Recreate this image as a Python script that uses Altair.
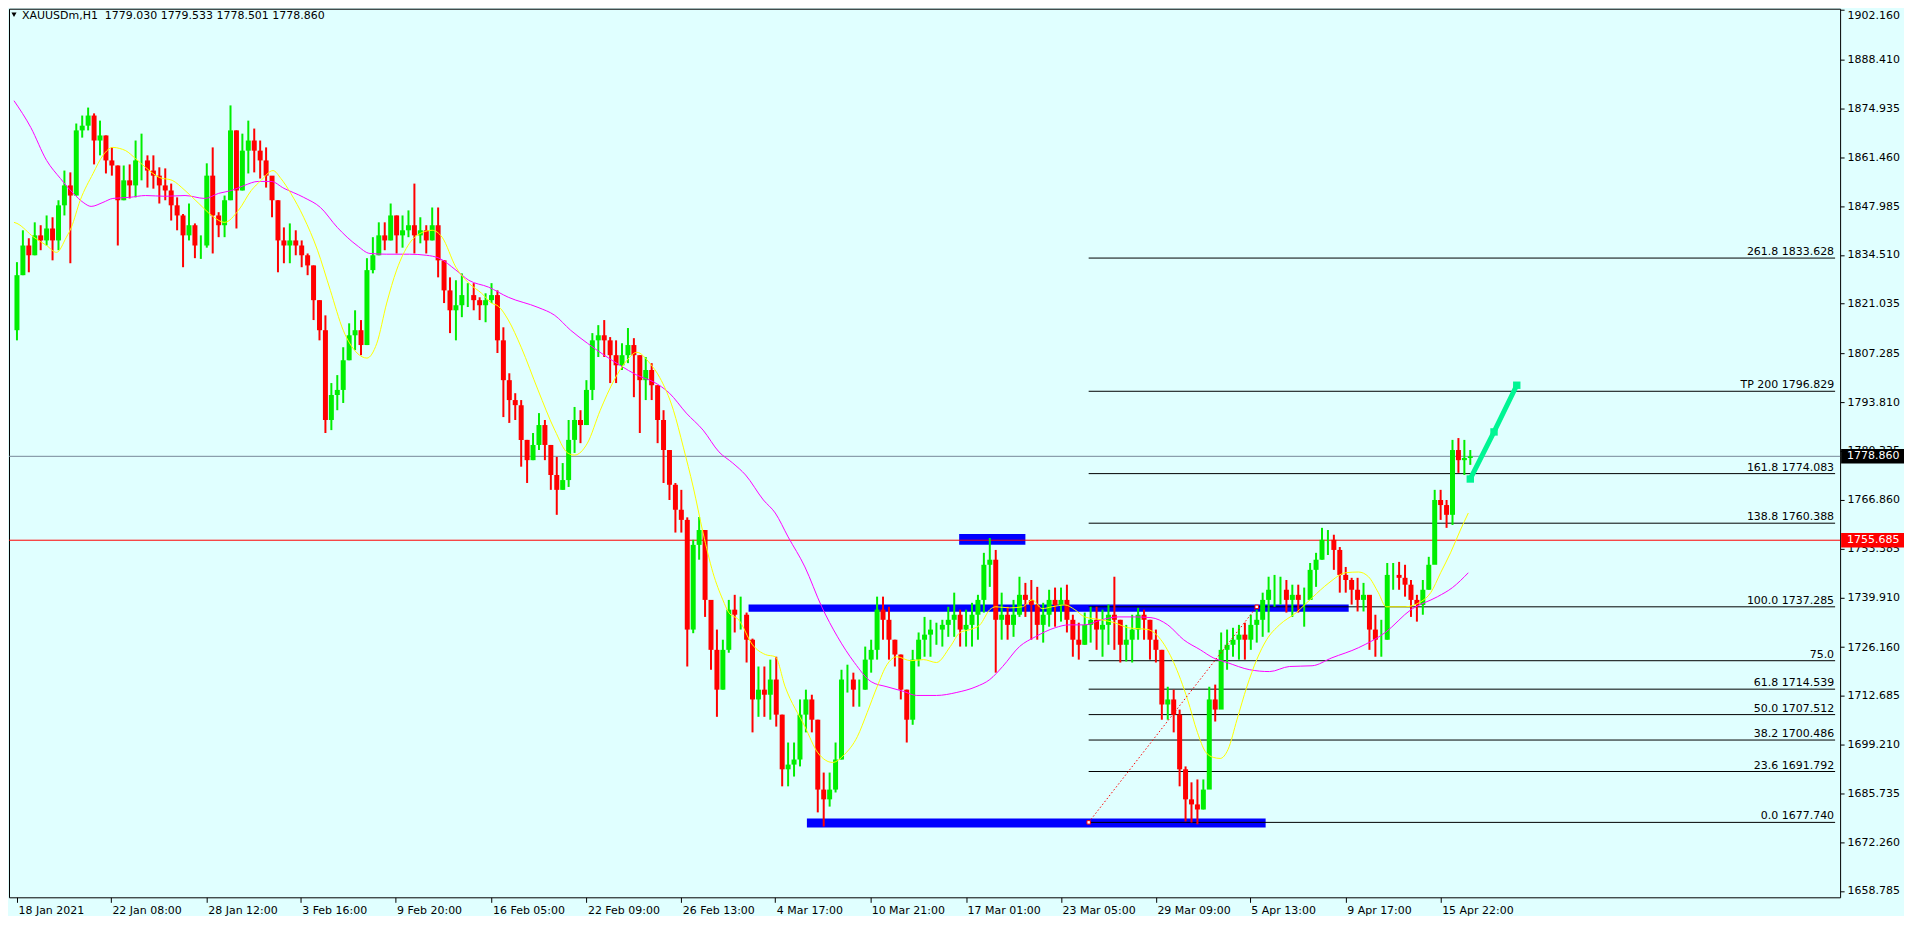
import altair as alt
import pandas as pd

# ---------------- data ----------------
TITLE = "XAUUSDm,H1\u00a0\u00a01779.030 1779.533 1778.501 1778.860"

FIRST_OPEN = 1813.7
BARS_PER_CANDLE = 6  # H1 bars aggregated per drawn candle

highs = [
    1832.5, 1841.3, 1839.1, 1843.5, 1842.7, 1845.4, 1844.9, 1849.6, 1857.8, 1857.3,
    1870.8, 1873.0, 1875.2, 1873.6, 1871.6, 1867.5, 1864.2, 1859.2, 1859.2, 1859.5,
    1866.1, 1868.0, 1862.0, 1862.0, 1858.7, 1858.4, 1854.2, 1850.4, 1845.8, 1848.7,
    1843.2, 1839.9, 1859.8, 1864.2, 1846.3, 1850.9, 1875.8, 1868.9, 1868.0, 1871.6,
    1869.4, 1866.1, 1864.2, 1856.1, 1849.6, 1842.1, 1843.2, 1841.3, 1838.5, 1834.9,
    1831.6, 1822.0, 1817.8, 1799.1, 1801.3, 1809.0, 1815.6, 1819.2, 1816.5, 1833.6,
    1839.4, 1843.5, 1843.5, 1848.7, 1845.4, 1845.4, 1846.8, 1854.2, 1844.9, 1842.7,
    1847.6, 1847.6, 1833.0, 1828.3, 1827.5, 1829.4, 1826.7, 1826.7, 1822.8, 1823.9,
    1826.7, 1824.7, 1814.5, 1801.8, 1796.3, 1794.4, 1783.4, 1785.3, 1790.8, 1788.9,
    1782.0, 1778.7, 1777.0, 1788.9, 1792.5, 1791.6, 1799.9, 1812.9, 1815.1, 1816.5,
    1811.8, 1810.9, 1810.1, 1814.3, 1811.5, 1806.8, 1806.3, 1804.6, 1798.5, 1791.6,
    1780.6, 1771.5, 1769.6, 1762.0, 1755.8, 1762.1, 1758.5, 1739.2, 1731.0, 1728.2,
    1739.2, 1740.6, 1740.1, 1735.7, 1728.5, 1720.8, 1720.8, 1722.7, 1723.5, 1707.5,
    1699.8, 1699.8, 1711.7, 1714.4, 1713.0, 1706.1, 1691.5, 1691.5, 1699.8, 1719.9,
    1721.3, 1719.1, 1717.2, 1726.3, 1728.2, 1740.1, 1740.1, 1737.3, 1728.2, 1724.1,
    1714.4, 1725.4, 1730.2, 1734.5, 1733.7, 1732.9, 1733.7, 1737.3, 1741.2, 1736.5,
    1736.5, 1738.4, 1740.6, 1752.2, 1756.3, 1753.0, 1741.2, 1737.3, 1739.2, 1745.6,
    1743.9, 1744.7, 1742.8, 1738.4, 1742.0, 1742.6, 1742.6, 1743.4, 1735.1, 1732.9,
    1735.7, 1737.3, 1737.3, 1736.5, 1737.9, 1745.6, 1733.7, 1732.3, 1735.1, 1737.0,
    1736.5, 1733.7, 1731.0, 1725.4, 1715.2, 1714.4, 1708.9, 1693.2, 1688.8, 1689.6,
    1689.6, 1715.2, 1715.8, 1730.2, 1731.0, 1731.5, 1732.3, 1732.9, 1735.1, 1736.5,
    1741.2, 1745.6, 1746.1, 1745.6, 1744.7, 1743.4, 1743.4, 1742.6, 1749.4, 1752.2,
    1759.1, 1758.5, 1757.2, 1753.8, 1748.3, 1745.3, 1745.3, 1743.9, 1739.2, 1735.1,
    1733.7, 1749.4, 1749.4, 1749.7, 1748.9, 1744.7, 1740.6, 1744.7, 1751.1, 1769.6,
    1769.6, 1766.8, 1783.4, 1783.9, 1783.4, 1780.6,
]

lows = [
    1810.9, 1828.9, 1829.7, 1834.4, 1835.8, 1837.1, 1833.0, 1835.8, 1845.4, 1832.2,
    1850.9, 1866.9, 1868.9, 1859.5, 1862.0, 1857.0, 1856.4, 1837.1, 1849.6, 1850.1,
    1850.4, 1855.1, 1853.1, 1852.8, 1848.7, 1849.6, 1844.0, 1841.3, 1831.1, 1838.5,
    1833.6, 1833.4, 1836.5, 1834.9, 1839.4, 1839.4, 1849.6, 1841.8, 1852.3, 1857.0,
    1857.3, 1855.6, 1853.1, 1844.9, 1829.7, 1832.2, 1832.2, 1834.4, 1831.1, 1828.9,
    1816.5, 1810.9, 1785.3, 1786.1, 1791.6, 1793.6, 1805.4, 1808.2, 1806.8, 1809.6,
    1829.4, 1834.4, 1835.8, 1838.5, 1834.9, 1836.5, 1839.4, 1834.9, 1837.7, 1834.9,
    1838.5, 1828.3, 1821.2, 1812.9, 1810.9, 1817.3, 1820.1, 1819.2, 1816.5, 1815.9,
    1821.2, 1807.4, 1789.7, 1788.1, 1788.9, 1776.0, 1771.5, 1777.8, 1780.6, 1777.8,
    1769.6, 1762.7, 1769.6, 1770.4, 1779.8, 1782.5, 1787.5, 1794.4, 1806.3, 1806.3,
    1799.1, 1799.1, 1802.7, 1804.6, 1795.2, 1785.3, 1794.4, 1794.4, 1782.5, 1771.5,
    1766.8, 1757.8, 1757.8, 1720.8, 1730.0, 1750.3, 1734.5, 1719.9, 1706.9, 1714.4,
    1724.6, 1730.2, 1731.0, 1721.9, 1702.6, 1706.9, 1706.9, 1706.1, 1704.2, 1687.7,
    1687.7, 1690.4, 1693.2, 1702.6, 1702.6, 1680.5, 1676.6, 1682.1, 1686.0, 1695.1,
    1713.6, 1709.7, 1709.7, 1714.4, 1719.1, 1722.7, 1728.2, 1722.7, 1720.8, 1711.7,
    1699.8, 1704.7, 1720.8, 1723.5, 1723.5, 1726.8, 1726.3, 1729.0, 1729.0, 1726.3,
    1726.3, 1726.3, 1728.2, 1735.7, 1742.8, 1719.1, 1728.2, 1728.2, 1729.0, 1734.5,
    1734.5, 1728.2, 1728.2, 1727.4, 1731.8, 1731.8, 1733.2, 1730.2, 1723.5, 1722.7,
    1726.8, 1727.4, 1725.4, 1723.5, 1726.8, 1725.4, 1721.9, 1722.2, 1721.9, 1728.2,
    1728.2, 1722.7, 1721.9, 1706.1, 1706.1, 1702.6, 1687.7, 1678.0, 1677.7, 1677.2,
    1681.3, 1688.2, 1705.6, 1710.3, 1719.9, 1723.5, 1722.7, 1722.7, 1725.4, 1727.4,
    1729.0, 1730.2, 1737.3, 1737.9, 1735.7, 1734.5, 1735.7, 1731.8, 1739.2, 1742.8,
    1750.3, 1751.6, 1747.5, 1741.2, 1741.2, 1737.9, 1736.0, 1736.0, 1725.4, 1723.5,
    1723.5, 1728.2, 1742.0, 1742.0, 1740.1, 1734.5, 1733.2, 1735.1, 1742.0, 1749.4,
    1761.3, 1759.1, 1759.9, 1774.3, 1773.7, 1776.5,
]

closes = [
    1828.9, 1837.1, 1834.4, 1839.9, 1838.5, 1841.8, 1838.5, 1848.2, 1853.7, 1850.9,
    1868.9, 1870.2, 1873.0, 1866.1, 1867.5, 1860.6, 1859.2, 1849.6, 1855.1, 1853.7,
    1860.6, 1860.6, 1857.8, 1856.4, 1853.7, 1852.3, 1848.2, 1845.4, 1839.9, 1842.7,
    1837.1, 1837.1, 1856.4, 1845.4, 1842.7, 1849.6, 1868.9, 1852.3, 1863.3, 1866.1,
    1863.3, 1860.6, 1856.4, 1849.6, 1838.5, 1837.1, 1838.5, 1837.1, 1834.4, 1831.6,
    1822.0, 1813.7, 1788.9, 1795.8, 1797.2, 1805.4, 1812.3, 1813.7, 1809.6, 1830.3,
    1834.4, 1839.9, 1838.5, 1845.4, 1839.9, 1841.3, 1842.7, 1839.9, 1841.3, 1838.5,
    1842.7, 1833.0, 1824.7, 1819.2, 1820.6, 1823.4, 1823.4, 1822.0, 1820.6, 1822.0,
    1823.4, 1810.9, 1799.9, 1794.4, 1793.0, 1783.4, 1777.8, 1782.0, 1787.5, 1782.0,
    1773.7, 1769.6, 1772.3, 1783.4, 1788.9, 1787.5, 1797.2, 1810.9, 1812.3, 1810.9,
    1806.8, 1804.0, 1806.8, 1809.6, 1806.8, 1799.9, 1802.7, 1798.5, 1788.9, 1780.6,
    1771.0, 1764.1, 1761.3, 1731.0, 1754.4, 1758.5, 1739.2, 1725.4, 1714.4, 1725.4,
    1736.5, 1735.1, 1735.1, 1728.2, 1711.7, 1714.4, 1713.0, 1717.2, 1707.5, 1692.4,
    1693.7, 1695.1, 1707.5, 1711.7, 1706.1, 1686.8, 1684.1, 1686.8, 1695.1, 1717.2,
    1717.2, 1714.4, 1714.4, 1722.7, 1725.4, 1736.5, 1733.7, 1728.2, 1724.1, 1714.4,
    1706.1, 1722.7, 1728.2, 1729.6, 1731.0, 1731.0, 1732.3, 1733.7, 1735.1, 1731.0,
    1732.3, 1735.1, 1739.2, 1748.9, 1750.3, 1733.7, 1735.1, 1732.3, 1735.1, 1740.6,
    1739.2, 1737.8, 1732.3, 1735.1, 1739.2, 1737.8, 1739.2, 1733.7, 1728.2, 1726.8,
    1732.3, 1733.7, 1731.0, 1732.3, 1735.1, 1733.7, 1726.8, 1728.2, 1731.0, 1735.1,
    1733.7, 1728.2, 1725.4, 1710.3, 1711.7, 1707.5, 1692.4, 1684.1, 1682.7, 1681.3,
    1686.8, 1711.7, 1708.9, 1725.4, 1726.8, 1728.2, 1729.6, 1728.2, 1732.3, 1733.7,
    1739.2, 1742.0, 1742.0, 1742.0, 1739.2, 1740.6, 1739.2, 1739.2, 1747.5, 1750.3,
    1755.8, 1755.8, 1753.0, 1746.1, 1744.7, 1742.0, 1739.2, 1740.6, 1731.0, 1728.2,
    1728.2, 1746.1, 1746.1, 1745.3, 1743.4, 1739.2, 1737.8, 1742.0, 1748.9, 1766.8,
    1765.4, 1762.7, 1780.6, 1777.8, 1778.4, 1778.86,
]

# fast moving average (yellow) and slow moving average (magenta): bar index / value
fast_ma_bar = [0, 3, 20, 33, 43, 53, 58, 67, 80, 90, 100, 107, 113, 123, 133, 147, 160, 173, 187, 200,
               213, 227, 240, 250, 262, 270, 280, 293, 307, 320, 333, 347, 357, 367, 377, 387, 400, 413, 423, 433,
               447, 460, 473, 483, 490, 500, 513, 530, 547, 560, 567, 580, 593, 607, 620, 630, 643, 653, 667, 677,
               687, 697, 707, 717, 723, 733, 747, 760, 770, 780, 800, 813, 828, 840, 853, 863, 873, 883, 893, 907,
               920, 933, 947, 957, 967, 977, 987, 993, 1007, 1020, 1030, 1040, 1050, 1063, 1073, 1083, 1100, 1113,
               1127, 1147, 1160, 1173, 1187, 1197, 1205, 1213, 1220, 1228, 1237, 1247, 1257, 1267, 1280, 1297,
               1313, 1330, 1347, 1360, 1370, 1380, 1388, 1407, 1423, 1433, 1443, 1453, 1463, 1471]
fast_ma_val = [1843.5, 1843.2, 1839.4, 1837.1, 1835.2, 1839.4, 1842.1, 1849.6, 1857.0, 1862.0, 1864.2, 1863.9,
               1863.3, 1861.1, 1858.7, 1855.9, 1855.1, 1852.3, 1848.7, 1845.4, 1843.5, 1846.8, 1852.3, 1855.1,
               1857.8, 1855.6, 1851.5, 1844.9, 1835.8, 1824.7, 1813.7, 1807.4, 1806.0, 1810.1, 1821.2, 1830.3,
               1837.7, 1840.7, 1841.3, 1839.4, 1831.1, 1826.7, 1823.9, 1821.2, 1820.3, 1816.5, 1809.0, 1797.2,
               1786.1, 1779.8, 1779.2, 1782.5, 1791.6, 1799.9, 1805.4, 1807.6, 1804.6, 1800.7, 1791.6, 1781.4,
               1770.4, 1757.7, 1746.7, 1739.2, 1735.7, 1733.7, 1726.8, 1724.1, 1723.5, 1715.2, 1704.2, 1697.0,
               1694.3, 1696.5, 1701.4, 1708.1, 1715.2, 1721.3, 1723.5, 1722.4, 1722.7, 1721.9, 1726.3, 1730.2,
               1731.0, 1732.3, 1736.5, 1737.3, 1737.0, 1737.3, 1739.2, 1736.8, 1737.3, 1737.8, 1736.5, 1734.5,
               1733.7, 1732.9, 1731.5, 1731.0, 1728.2, 1721.9, 1711.7, 1702.6, 1697.3, 1695.7, 1695.4, 1697.9,
               1706.1, 1715.2, 1722.7, 1728.2, 1732.3, 1735.7, 1739.8, 1743.9, 1746.7, 1746.9, 1745.6, 1741.2,
               1737.3, 1737.3, 1738.7, 1741.2, 1746.7, 1752.2, 1758.5, 1763.2]

slow_ma_bar = [0, 17, 33, 47, 60, 70, 78, 90, 100, 117, 133, 153, 173, 193, 207, 220, 233, 247, 260, 273,
               293, 310, 327, 347, 360, 377, 400, 417, 430, 447, 460, 480, 500, 530, 547, 563, 580, 597, 613, 630,
               647, 663, 680, 697, 713, 727, 740, 758, 770, 783, 800, 817, 833, 850, 867, 883, 900, 913, 933, 953,
               973, 987, 1000, 1017, 1033, 1053, 1067, 1083, 1100, 1117, 1133, 1150, 1167, 1183, 1200, 1213, 1227,
               1250, 1270, 1290, 1313, 1333, 1360, 1387, 1413, 1440, 1455, 1471]
slow_ma_val = [1877.1, 1869.7, 1860.6, 1855.6, 1851.5, 1849.0, 1847.9, 1849.0, 1850.1, 1850.4,
               1850.9, 1850.7, 1850.9, 1850.1, 1851.5, 1852.3, 1853.7, 1854.8, 1854.8, 1852.9,
               1850.4, 1847.6, 1842.1, 1837.1, 1834.9, 1834.7, 1834.7, 1834.4, 1833.6, 1830.3,
               1827.5, 1825.6, 1822.8, 1820.0, 1817.8, 1813.7, 1810.1, 1806.8, 1804.0, 1801.3,
               1799.4, 1796.3, 1790.8, 1786.1, 1780.1, 1777.0, 1773.7, 1766.8, 1763.2, 1756.6,
               1748.3, 1737.3, 1729.0, 1721.9, 1716.6, 1715.2, 1713.9, 1712.8, 1712.8, 1713.6,
               1715.2, 1717.2, 1720.8, 1726.3, 1729.0, 1731.5, 1732.3, 1732.3, 1733.7, 1734.5,
               1734.5, 1734.3, 1732.3, 1728.2, 1725.4, 1723.2, 1721.9, 1719.9, 1719.4, 1720.8,
               1721.0, 1723.2, 1726.0, 1730.2, 1736.5, 1740.1, 1742.6, 1746.7]

x_tick_bars = [3, 98, 195, 290, 386, 483, 579, 675, 770, 866, 963, 1059, 1155, 1250, 1347, 1443]
x_tick_labels = ["18 Jan 2021", "22 Jan 08:00", "28 Jan 12:00", "3 Feb 16:00", "9 Feb 20:00",
                 "16 Feb 05:00", "22 Feb 09:00", "26 Feb 13:00", "4 Mar 17:00", "10 Mar 21:00",
                 "17 Mar 01:00", "23 Mar 05:00", "29 Mar 09:00", "5 Apr 13:00", "9 Apr 17:00",
                 "15 Apr 22:00"]
y_tick_values = [1902.160, 1888.410, 1874.935, 1861.460, 1847.985, 1834.510, 1821.035, 1807.285,
                 1793.810, 1780.335, 1766.860, 1753.385, 1739.910, 1726.160, 1712.685, 1699.210,
                 1685.735, 1672.260, 1658.785]

# Fibonacci object
fib_levels = ["261.8", "TP 200", "161.8", "138.8", "100.0", "75.0", "61.8", "50.0", "38.2", "23.6", "0.0"]
fib_values = [1833.628, 1796.829, 1774.083, 1760.388, 1737.285, 1722.400, 1714.539, 1707.512,
              1700.486, 1691.792, 1677.740]
fib_with_price = [True, True, True, True, True, False, True, True, True, True, True]
fib_start_bar = 1087
fib_anchor_bars = [1087, 1257]
fib_anchor_values = [1677.740, 1737.285]

# blue support / resistance zones
zone_start = [956, 743, 802]
zone_end = [1023, 1350, 1266]
zone_high = [1757.4, 1737.9, 1678.8]
zone_low = [1754.4, 1735.9, 1676.3]

red_level = 1755.685
bid_price = 1778.860

# projected path (green)
proj_bars = [1473, 1497, 1520]
proj_values = [1772.6, 1785.6, 1798.5]

# ---------------- styling / layout ----------------
W, H = 1834, 890
X_DOMAIN = [0, 1842]
Y_DOMAIN = [1657.04, 1902.51]
FONT = "DejaVu Sans"
BG = "#E0FFFF"
UP = "#00EE00"
DOWN = "#FF0000"
BOX_HALF = 2.0

assert len(highs) == len(lows) == len(closes)
assert len(fast_ma_bar) == len(fast_ma_val) and len(slow_ma_bar) == len(slow_ma_val)

opens = [FIRST_OPEN] + closes[:-1]
bars = [BARS_PER_CANDLE * k + BARS_PER_CANDLE // 2 for k in range(len(closes))]
cdf = pd.DataFrame({
    "bar": bars, "open": opens, "high": highs, "low": lows, "close": closes,
    "dir": ["up" if c >= o else "down" for o, c in zip(opens, closes)],
})

xscale = alt.Scale(domain=X_DOMAIN, nice=False, zero=False)
yscale = alt.Scale(domain=Y_DOMAIN, nice=False, zero=False)

lab_arr = ",".join("'%s'" % s for s in x_tick_labels)
idx_arr = ",".join(str(v) for v in x_tick_bars)
x_axis = alt.Axis(
    orient="bottom", values=x_tick_bars,
    labelExpr=f"[{lab_arr}][indexof([{idx_arr}], datum.value)]",
    title=None, grid=False, domain=False, tickSize=5, tickColor="black", tickWidth=1,
    labelAlign="left", labelBaseline="top", labelPadding=2, labelOffset=1,
    labelFont=FONT, labelFontSize=11, labelColor="black", labelOverlap=False, labelFlush=False,
)
y_axis = alt.Axis(
    orient="right", values=y_tick_values, format=".3f",
    title=None, grid=False, domain=False, tickSize=4, tickColor="black", tickWidth=1,
    labelAlign="left",
    labelBaseline={"condition": {"test": "datum.value > 1900", "value": "top"}, "value": "middle"},
    labelPadding=3, labelFont=FONT, labelFontSize=11, labelColor="black",
    labelOverlap=False, labelFlush=False,
)


def X(f):
    return alt.X(f"{f}:Q", scale=xscale, axis=x_axis)


def Y(f):
    return alt.Y(f"{f}:Q", scale=yscale, axis=y_axis)


color_dir = alt.Color("dir:N", scale=alt.Scale(domain=["up", "down"], range=[UP, DOWN]), legend=None)

zones = alt.Chart(pd.DataFrame({"start": zone_start, "end": zone_end, "low": zone_low, "high": zone_high})) \
    .mark_rect(color="#0000FF").encode(x=X("start"), x2="end", y=Y("low"), y2="high")

fdf = pd.DataFrame({
    "bar0": [fib_start_bar] * len(fib_values),
    "bar1": [X_DOMAIN[1]] * len(fib_values),
    "value": fib_values,
    "label": [f"{n} {v:.3f}" if s else n for n, v, s in zip(fib_levels, fib_values, fib_with_price)],
})
fib_lines = alt.Chart(fdf).mark_rule(color="black", strokeWidth=1).encode(
    x=X("bar0"), x2="bar1", y=Y("value"))
fib_text = alt.Chart(fdf).mark_text(
    align="right", baseline="alphabetic", dx=-1, dy=-3, font=FONT, fontSize=11, color="black"
).encode(x=X("bar1"), y=Y("value"), text="label:N")

red_line = alt.Chart(pd.DataFrame({"value": [red_level]})).mark_rule(color="#FF0000", strokeWidth=1) \
    .encode(y=Y("value"))
bid_line = alt.Chart(pd.DataFrame({"value": [bid_price]})).mark_rule(color="#778899", strokeWidth=1) \
    .encode(y=Y("value"))

wicks = alt.Chart(cdf).mark_rule(strokeWidth=2).encode(x=X("bar"), y=Y("low"), y2="high", color=color_dir)
bodies = alt.Chart(cdf).mark_bar(size=5).encode(x=X("bar"), y=Y("open"), y2="close", color=color_dir)

slow_line = alt.Chart(pd.DataFrame({"bar": slow_ma_bar, "value": slow_ma_val})) \
    .mark_line(color="#FF00FF", strokeWidth=1, interpolate="monotone").encode(x=X("bar"), y=Y("value"))
fast_line = alt.Chart(pd.DataFrame({"bar": fast_ma_bar, "value": fast_ma_val})) \
    .mark_line(color="#FFFF00", strokeWidth=1, interpolate="monotone").encode(x=X("bar"), y=Y("value"))

adf = pd.DataFrame({"bar": fib_anchor_bars, "value": fib_anchor_values})
fib_base = alt.Chart(adf).mark_line(color="#FF0000", strokeWidth=1, strokeDash=[1.5, 2.2]) \
    .encode(x=X("bar"), y=Y("value"))
fib_anchor = alt.Chart(adf).mark_point(shape="square", size=12, filled=True, fill="white",
                                       stroke="#FF0000", strokeWidth=1, opacity=1) \
    .encode(x=X("bar"), y=Y("value"))

pdf = pd.DataFrame({"bar": proj_bars, "value": proj_values})
proj_line = alt.Chart(pdf).mark_line(color="#00F593", strokeWidth=5).encode(x=X("bar"), y=Y("value"))
proj_pts = alt.Chart(pdf).mark_square(size=55, color="#00F593", opacity=1).encode(x=X("bar"), y=Y("value"))

bid_df = pd.DataFrame({"value": [bid_price], "lo": [bid_price - BOX_HALF], "hi": [bid_price + BOX_HALF],
                       "label": [f"{bid_price:.3f}"]})
red_df = pd.DataFrame({"value": [red_level], "lo": [red_level - BOX_HALF], "hi": [red_level + BOX_HALF],
                       "label": [f"{red_level:.3f}"]})
bid_box = alt.Chart(bid_df).mark_rect(color="black").encode(
    x=alt.value(W + 1), x2=alt.value(W + 64), y=Y("lo"), y2="hi")
red_box = alt.Chart(red_df).mark_rect(color="#FF0000").encode(
    x=alt.value(W + 1), x2=alt.value(W + 64), y=Y("lo"), y2="hi")
bid_txt = alt.Chart(bid_df).mark_text(align="left", baseline="middle", font=FONT, fontSize=11, color="white") \
    .encode(x=alt.value(W + 7), y=Y("value"), text="label:N")
red_txt = alt.Chart(red_df).mark_text(align="left", baseline="middle", font=FONT, fontSize=11, color="white") \
    .encode(x=alt.value(W + 7), y=Y("value"), text="label:N")

title_txt = alt.Chart(pd.DataFrame({"t": [TITLE]})).mark_text(
    align="left", baseline="middle", font=FONT, fontSize=11, color="black"
).encode(x=alt.value(13), y=alt.value(7), text="t:N")
title_tri = alt.Chart(pd.DataFrame({"t": ["v"]})).mark_point(
    shape="triangle-down", filled=True, color="black", size=26, opacity=1
).encode(x=alt.value(5), y=alt.value(6))

chart = alt.layer(
    zones, fib_lines, red_line, bid_line, wicks, bodies, slow_line, fast_line,
    fib_base, fib_anchor, proj_line, proj_pts, fib_text,
    bid_box, red_box, bid_txt, red_txt, title_txt, title_tri,
).properties(
    width=W, height=H, background=BG,
    padding={"left": 0, "top": 0, "right": 0, "bottom": 0},
).configure_view(stroke="black", strokeWidth=1, fill=BG)

chart.save("out.html", embed_options={"renderer": "svg", "actions": False})
